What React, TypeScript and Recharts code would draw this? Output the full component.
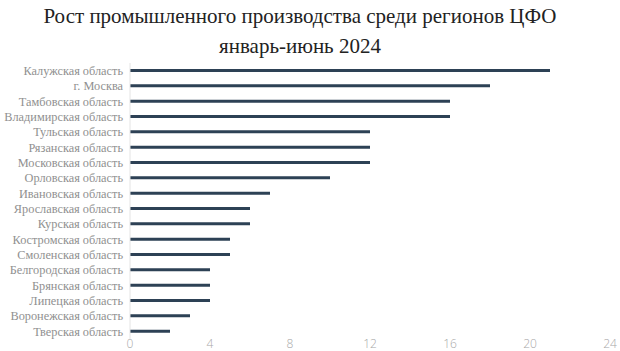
import React from "react";
import { BarChart, Bar, XAxis, YAxis } from "recharts";

const regions = [
  "Калужская область",
  "г. Москва",
  "Тамбовская область",
  "Владимирская область",
  "Тульская область",
  "Рязанская область",
  "Московская область",
  "Орловская область",
  "Ивановская область",
  "Ярославская область",
  "Курская область",
  "Костромская область",
  "Смоленская область",
  "Белгородская область",
  "Брянская область",
  "Липецкая область",
  "Воронежская область",
  "Тверская область",
];
const growth = [21, 18, 16, 16, 12, 12, 12, 10, 7, 6, 6, 5, 5, 4, 4, 4, 3, 2];
const xTicks = [0, 4, 8, 12, 16, 20, 24];
const titleLines = ["Рост промышленного производства среди регионов ЦФО", "январь-июнь 2024"];

const data = regions.map((r, i) => ({ region: r, value: growth[i] }));

const RegionTick = (props: any) => {
  const { x, y, payload } = props;
  return (
    <text
      x={x}
      y={y}
      dy="0.35em"
      textAnchor="end"
      fill="#909090"
      fontSize={12.3}
      fontFamily="'Liberation Serif', serif"
    >
      {payload.value}
    </text>
  );
};

export default function App() {
  return (
    <div style={{ position: "absolute", left: 0, top: 0, width: 620, height: 351, background: "#fff" }}>
      <div
        style={{
          position: "absolute",
          left: -10,
          top: 1,
          width: 620,
          textAlign: "center",
          fontFamily: "'Liberation Serif', serif",
          fontSize: 21,
          lineHeight: "30px",
          color: "#222",
        }}
      >
        {titleLines.map((t) => (
          <div key={t}>{t}</div>
        ))}
      </div>
      <div style={{ position: "absolute", left: 0, top: 0 }}>
        <BarChart
          width={620}
          height={351}
          data={data}
          layout="vertical"
          margin={{ top: 63, right: 10, bottom: 0, left: 0 }}
        >
          <XAxis
            type="number"
            domain={[0, 24]}
            ticks={xTicks}
            axisLine={false}
            tickLine={false}
            tickSize={0}
            tickMargin={0}
            height={12}
            interval={0}
            tick={{ fill: "#a8a8a8", fontSize: 12, fontFamily: "'Open Sans', sans-serif", fontWeight: 300 }}
          />
          <YAxis
            type="category"
            dataKey="region"
            width={130}
            interval={0}
            tickLine={false}
            axisLine={{ stroke: "#e4e4e4" }}
            tickMargin={1}
            tick={<RegionTick />}
          />
          <Bar dataKey="value" fill="#2d4155" barSize={3} isAnimationActive={false} />
        </BarChart>
      </div>
    </div>
  );
}
